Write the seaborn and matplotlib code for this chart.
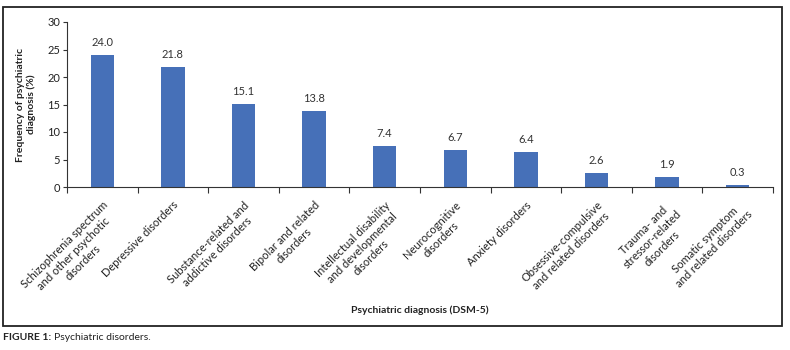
import matplotlib
matplotlib.use("Agg")
import matplotlib.pyplot as plt
import seaborn as sns
import pandas as pd
from matplotlib.patches import Rectangle
from matplotlib.ticker import FixedLocator

categories = [
    "Schizophrenia spectrum\nand other psychotic\ndisorders",
    "Depressive disorders",
    "Substance-related and\naddictive disorders",
    "Bipolar and related\ndisorders",
    "Intellectual disability\nand developmental\ndisorders",
    "Neurocognitive\ndisorders",
    "Anxiety disorders",
    "Obsessive-compulsive\nand related disorders",
    "Trauma- and\nstressor-related\ndisorders",
    "Somatic symptom\nand related disorders",
]
values = [24.0, 21.8, 15.1, 13.8, 7.4, 6.7, 6.4, 2.6, 1.9, 0.3]
y_ticks = [0, 5, 10, 15, 20, 25, 30]

sns.set_theme(style="white")
plt.rcParams["font.family"] = ["Lato", "DejaVu Sans"]

df = pd.DataFrame({"cat": categories, "val": values})

fig = plt.figure(figsize=(7.9, 3.5), dpi=100)
ax = fig.add_axes([67/790, 1-187/350, (773-67)/790, (187-22)/350])

sns.barplot(data=df, x="cat", y="val", color="#4670B8", width=0.33,
            saturation=1, ax=ax, edgecolor="none")

ax.set_xlim(-0.5, len(categories) - 0.5)
ax.set_ylim(0, 30)
ax.set_yticks(y_ticks)
ax.tick_params(axis="y", labelsize=8, length=3, width=0.8, color="#333333",
               left=True, pad=2, labelcolor="#222222")
ax.set_xticks(range(len(categories)))
ax.set_xticklabels(categories, rotation=45, ha="right", va="top",
                   rotation_mode="anchor", multialignment="center",
                   fontsize=8, color="#222222", linespacing=1.2)
ax.tick_params(axis="x", which="major", length=0, pad=9)
ax.xaxis.set_minor_locator(FixedLocator([i - 0.5 for i in range(len(categories) + 1)]))
ax.tick_params(axis="x", which="minor", length=4, width=0.8, color="#333333", bottom=True)

for s in ["top", "right"]:
    ax.spines[s].set_visible(False)
for s in ["left", "bottom"]:
    ax.spines[s].set_color("#333333")
    ax.spines[s].set_linewidth(0.8)

for c in ax.containers:
    ax.bar_label(c, fmt="%.1f", padding=5, fontsize=8, color="#333333")

ax.set_xlabel("")
ax.set_ylabel("Frequency of psychiatric\ndiagnosis (%)", fontsize=7.5,
              fontweight="bold", color="#222222", labelpad=8)

fig.text(420/790, 1-310/350, "Psychiatric diagnosis (DSM-5)", ha="center", va="center",
         fontsize=7.5, fontweight="bold", color="#222222")

fig.patches.append(Rectangle((3/790, 1-326/350), 779/790, 319/350,
                             transform=fig.transFigure, fill=False,
                             edgecolor="#222222", linewidth=1.3))

t1 = fig.text(3/790, 1-338/350, "FIGURE 1:", ha="left", va="center",
              fontsize=7.5, fontweight="bold", color="#222222")
fig.canvas.draw()
bb = t1.get_window_extent()
fig.text(bb.x1/790 + 3/790, 1-338/350, "Psychiatric disorders.", ha="left", va="center",
         fontsize=7.5, color="#222222")

fig.savefig("out.png", dpi=100)
